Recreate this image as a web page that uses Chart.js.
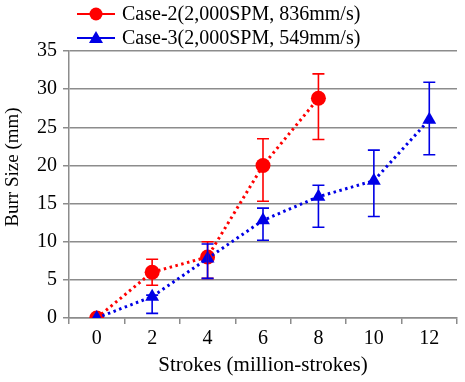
<!DOCTYPE html>
<html><head><meta charset="utf-8">
<script src="https://cdn.jsdelivr.net/npm/chart.js@4"></script>
<style>html,body{margin:0;padding:0;background:#fff;}canvas{display:block;}</style>
</head><body>
<canvas id="c" width="465" height="382"></canvas>
<script>
const categories = ['0','2','4','6','8','10','12'];
const case2Values = [0, 6, 8, 20, 28.8, null, null];
const case2Upper  = [0, 7.7, 10, 23.5, 32, null, null];
const case2Lower  = [0, 4.3, 5.2, 15.3, 23.4, null, null];
const case3Values = [0, 2.8, 7.8, 12.8, 15.9, 18, 26];
const case3Upper  = [0, 3.0, 9.7, 14.4, 17.4, 22, 30.9];
const case3Lower  = [0, 0.6, 5.2, 10.2, 11.9, 13.3, 21.4];
const seriesNames = ['Case-2(2,000SPM, 836mm/s)', 'Case-3(2,000SPM, 549mm/s)'];
const yTicks = [0,5,10,15,20,25,30,35];
const xTitle = 'Strokes (million-strokes)';
const yTitle = 'Burr Size (mm)';

const RED = '#ff0000', BLUE = '#0000e6', GRID = '#8c8c8c';
const FONT = "'Liberation Serif', 'Times New Roman', serif";

const errorBars = {
  id: 'errorBars',
  afterDatasetsDraw(chart) {
    const ctx = chart.ctx, y = chart.scales.y;
    const sets = [[0, case2Upper, case2Lower, RED], [1, case3Upper, case3Lower, BLUE]];
    ctx.save();
    ctx.lineWidth = 1.6;
    sets.forEach(([di, up, lo, col]) => {
      const meta = chart.getDatasetMeta(di);
      ctx.strokeStyle = col;
      meta.data.forEach((pt, i) => {
        if (up[i] == null || up[i] === lo[i]) return;
        const x = pt.x, y1 = y.getPixelForValue(up[i]), y2 = y.getPixelForValue(lo[i]);
        ctx.beginPath();
        ctx.moveTo(x, y1); ctx.lineTo(x, y2);
        ctx.moveTo(x - 6, y1); ctx.lineTo(x + 6, y1);
        ctx.moveTo(x - 6, y2); ctx.lineTo(x + 6, y2);
        ctx.stroke();
      });
    });
    ctx.restore();
  }
};

const legendPlugin = {
  id: 'customLegend',
  afterDraw(chart) {
    const ctx = chart.ctx;
    ctx.save();
    const rows = [[seriesNames[0], RED, 'circle', 14], [seriesNames[1], BLUE, 'triangle', 38]];
    rows.forEach(([txt, col, shape, yy]) => {
      ctx.strokeStyle = col; ctx.fillStyle = col; ctx.lineWidth = 2;
      ctx.beginPath(); ctx.moveTo(77, yy); ctx.lineTo(115, yy); ctx.stroke();
      ctx.beginPath();
      if (shape === 'circle') { ctx.arc(96, yy, 6.5, 0, Math.PI * 2); }
      else { ctx.moveTo(96, yy - 7); ctx.lineTo(103, yy + 5); ctx.lineTo(89, yy + 5); ctx.closePath(); }
      ctx.fill();
      ctx.fillStyle = '#000';
      ctx.font = '20px ' + FONT;
      ctx.textBaseline = 'middle';
      ctx.fillText(txt, 122, yy + 1);
    });
    // y axis title
    ctx.translate(13, 167);
    ctx.rotate(-Math.PI / 2);
    ctx.font = '19px ' + FONT;
    ctx.textAlign = 'center';
    ctx.textBaseline = 'middle';
    ctx.fillText(yTitle, 0, 0);
    ctx.restore();
  }
};

new Chart(document.getElementById('c'), {
  type: 'line',
  data: {
    labels: categories,
    datasets: [
      { label: seriesNames[0], data: case2Values, borderColor: RED, backgroundColor: RED,
        borderWidth: 3, borderDash: [2.5, 3.5], pointStyle: 'circle', pointRadius: 7.5,
        pointBorderWidth: 0, pointBackgroundColor: RED, spanGaps: false, order: 2, tension: 0 },
      { label: seriesNames[1], data: case3Values, borderColor: BLUE, backgroundColor: BLUE,
        borderWidth: 3, borderDash: [2.5, 3.5], pointStyle: 'triangle', pointRadius: 8,
        pointBorderWidth: 0, pointBackgroundColor: BLUE, order: 1, tension: 0 }
    ]
  },
  options: {
    responsive: false,
    animation: false,
    devicePixelRatio: 1,
    layout: { padding: { top: 51, right: 7, left: 0, bottom: 0 } },
    plugins: { legend: { display: false }, tooltip: { enabled: false } },
    scales: {
      x: {
        type: 'category', offset: true,
        afterFit(s) { s.height = 64; },
        grid: { display: true, drawOnChartArea: false, drawTicks: true, tickLength: 6, offset: true, color: GRID, lineWidth: 1.5 },
        border: { display: true, color: GRID, width: 1.5 },
        ticks: { color: '#000', font: { family: FONT, size: 20 }, padding: 3, maxRotation: 0 },
        title: { display: true, text: xTitle, color: '#000', font: { family: FONT, size: 21 }, padding: { top: 0, bottom: 4 } }
      },
      y: {
        min: 0, max: 35,
        afterFit(s) { s.width = 69; },
        afterBuildTicks(s) { s.ticks = yTicks.map(v => ({ value: v })); },
        grid: { color: GRID, lineWidth: 1.5, tickLength: 6 },
        border: { display: true, color: GRID, width: 1.5 },
        ticks: { color: '#000', font: { family: FONT, size: 20 }, padding: 6 },
        title: { display: false }
      }
    }
  },
  plugins: [errorBars, legendPlugin]
});
</script>
</body></html>
